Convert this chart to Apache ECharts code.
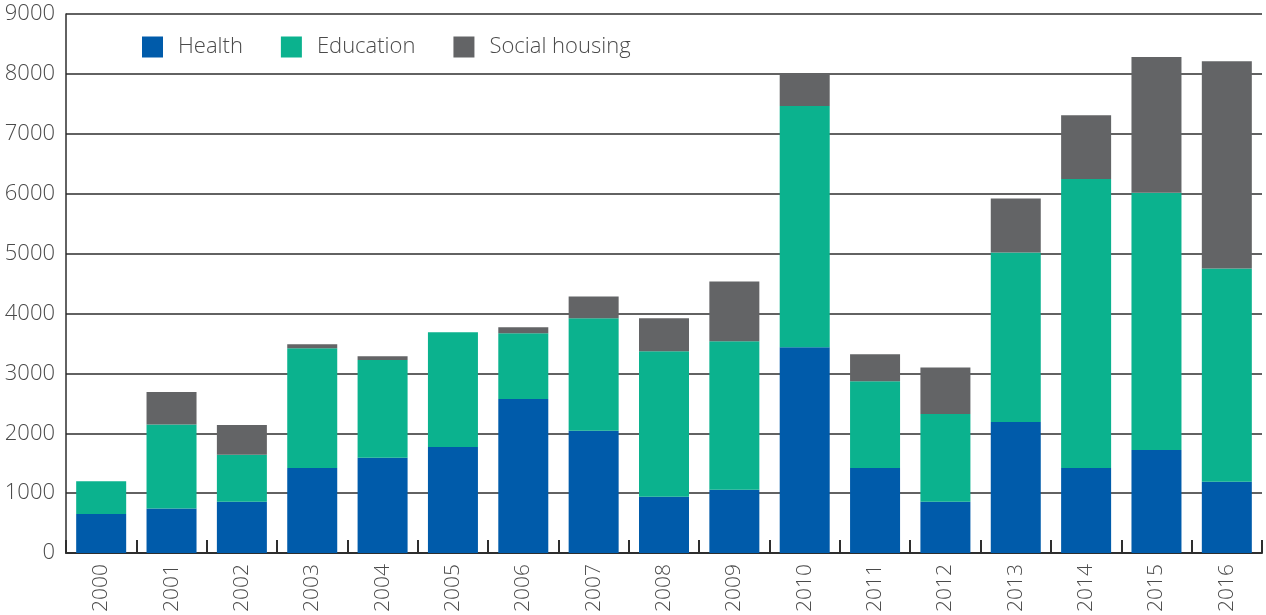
<!DOCTYPE html>
<html>
<head>
<meta charset="utf-8">
<script src="https://cdn.jsdelivr.net/npm/echarts@6/dist/echarts.min.js"></script>
<style>
    html, body { margin: 0; padding: 0; background: #fff; }
    #chart { width: 1266px; height: 615px; }
</style>
</head>
<body>
<div id="chart"></div>
<script>
// 年份
const years = ['2000', '2001', '2002', '2003', '2004', '2005', '2006', '2007', '2008',
    '2009', '2010', '2011', '2012', '2013', '2014', '2015', '2016']
// 各类数值（堆叠）
const health = [650, 745, 855, 1420, 1590, 1770, 2570, 2040, 940, 1055, 3435, 1420, 855, 2190, 1420, 1720, 1190]
const education = [550, 1400, 785, 2000, 1635, 1915, 1100, 1880, 2430, 2480, 4030, 1450, 1465, 2830, 4825, 4295, 3560]
const socialHousing = [0, 545, 500, 65, 60, 0, 100, 365, 550, 1000, 540, 450, 780, 900, 1065, 2265, 3460]
const yTicks = { min: 0, max: 9000, interval: 1000 }

const fontFamily = '"Open Sans", "Noto Sans", sans-serif'
const textColor = '#4a4a4a'
const lineColor = '#2e2e2e'
const colors = ['#005baa', '#0bb28e', '#636466']

let myChart = echarts.init(document.getElementById('chart'))

function bar (name, data, i) {
    return {
        name: name,
        type: 'bar',
        stack: 'total',
        barWidth: 50,
        data: data,
        itemStyle: { color: colors[i] }
    }
}

myChart.setOption({
    animation: false,
    textStyle: { fontFamily: fontFamily },
    legend: {
        left: 142,
        top: 36,
        padding: 0,
        itemWidth: 21,
        itemHeight: 21,
        itemGap: 38,
        icon: 'rect',
        textStyle: {
            fontSize: 22,
            fontWeight: 300,
            color: textColor,
            fontFamily: fontFamily,
            padding: [0, 0, 0, 10]
        },
        data: ['Health', 'Education', 'Social housing']
    },
    grid: {
        left: 66,
        right: 4,
        top: 14,
        bottom: 58
    },
    xAxis: [
        {
            type: 'category',
            data: years,
            axisLine: { show: true, lineStyle: { color: lineColor, width: 2 } },
            axisTick: { show: false },
            axisLabel: {
                rotate: 90,
                margin: 11,
                fontSize: 21,
                fontWeight: 300,
                color: textColor,
                fontFamily: fontFamily
            }
        },
        {
            // 只画刻度线
            type: 'category',
            data: years,
            position: 'bottom',
            axisLine: { show: false, onZero: false },
            axisLabel: { show: false },
            axisTick: {
                show: true,
                inside: true,
                length: 13,
                lineStyle: { color: lineColor, width: 2 }
            }
        }
    ],
    yAxis: {
        type: 'value',
        min: yTicks.min,
        max: yTicks.max,
        interval: yTicks.interval,
        axisLine: { show: true, lineStyle: { color: lineColor, width: 1.5 } },
        axisTick: { show: false },
        axisLabel: {
            margin: 11,
            fontSize: 22,
            fontWeight: 300,
            color: textColor,
            fontFamily: fontFamily,
            formatter: function (v) { return String(v) }
        },
        splitLine: { lineStyle: { color: lineColor, width: 1.5 } }
    },
    series: [
        bar('Health', health, 0),
        bar('Education', education, 1),
        bar('Social housing', socialHousing, 2)
    ]
})
</script>
</body>
</html>
